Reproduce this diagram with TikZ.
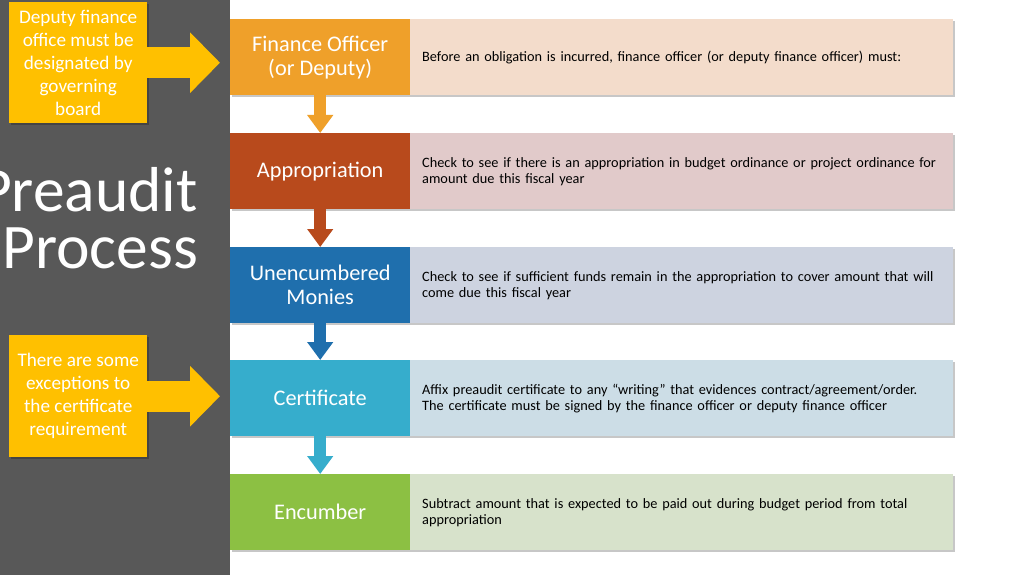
\documentclass[tikz,border=0pt]{standalone}
\usepackage{fontspec}
\setmainfont{Carlito}
\usetikzlibrary{arrows.meta,shadows,calc}
\definecolor{panel}{HTML}{585858}
\definecolor{ylw}{HTML}{FFC000}
\definecolor{cA}{HTML}{EFA02A}
\definecolor{cB}{HTML}{B84A1C}
\definecolor{cC}{HTML}{1F6FAD}
\definecolor{cD}{HTML}{36ADCC}
\definecolor{cE}{HTML}{8CC043}
\definecolor{lA}{HTML}{F3DCCB}
\definecolor{lB}{HTML}{E1CACA}
\definecolor{lC}{HTML}{CDD3E0}
\definecolor{lD}{HTML}{CCDDE6}
\definecolor{lE}{HTML}{D7E2CB}
\begin{document}
\begin{tikzpicture}[x=1pt,y=-1pt,
  shade/.style={drop shadow={shadow xshift=1.5pt,shadow yshift=-2pt,fill=black,opacity=0.22}},
  lbl/.style={anchor=north west, minimum width=180pt, minimum height=76pt, inner sep=0pt,
    text=white, font=\fontsize{22.3}{24}\selectfont, align=center, shade},
  desc/.style={anchor=north west, minimum height=76pt, inner xsep=12pt, inner ysep=0pt,
    text width=519pt, align=left, font=\fontsize{14.3}{16}\selectfont, text=black, shade},
  conn/.style={line width=12pt, -{Triangle[width=25pt,length=18pt]}},
  callout/.style={anchor=north west, fill=ylw, text=white, minimum width=138pt, inner sep=0pt,
    align=center, font=\fontsize{19.2}{23}\selectfont, shade},
  callarrow/.style={line width=31pt, draw=ylw, -{Triangle[width=59pt,length=30pt]}},
  title/.style={anchor=base east, text=white, inner sep=0pt, font=\fontsize{63.5}{57}\selectfont}]
\useasboundingbox (0,0) rectangle (1024,575);
\clip (0,0) rectangle (1024,575);
\fill[white] (0,0) rectangle (1024,575);
\fill[panel] (0,0) rectangle (230,575);

\node[title] (t1) at (198,211) {Preaudit};
\node[title] (t2) at (198,268) {Process};

\node[lbl, fill=cA] (b1) at (230,19) {Finance Officer\\(or Deputy)};
\node[lbl, fill=cB] (b2) at (230,133) {Appropriation};
\node[lbl, fill=cC] (b3) at (230,247) {Unencumbered\\Monies};
\node[lbl, fill=cD] (b4) at (230,360) {Certificate};
\node[lbl, fill=cE] (b5) at (230,474) {Encumber};

\node[desc, fill=lA] (d1) at (410,19) {Before an obligation is incurred, finance officer (or deputy finance officer) must:};
\node[desc, fill=lB] (d2) at (410,133) {Check to see if there is an appropriation in budget ordinance or project ordinance for\\amount due this fiscal year};
\node[desc, fill=lC] (d3) at (410,247) {Check to see if sufficient funds remain in the appropriation to cover amount that will\\come due this fiscal year};
\node[desc, fill=lD] (d4) at (410,360) {Affix preaudit certificate to any “writing” that evidences contract/agreement/order.\\The certificate must be signed by the finance officer or deputy finance officer};
\node[desc, fill=lE] (d5) at (410,474) {Subtract amount that is expected to be paid out during budget period from total\\appropriation};

\draw[conn, cA] (b1.south) -- (b2.north);
\draw[conn, cB] (b2.south) -- (b3.north);
\draw[conn, cC] (b3.south) -- (b4.north);
\draw[conn, cD] (b4.south) -- (b5.north);

\node[callout, minimum height=121pt] (y1) at (9,2) {Deputy finance\\office must be\\designated by\\governing\\board};
\node[callout, minimum height=122pt] (y2) at (9,335) {\rule{0pt}{6pt}There are some\\exceptions to\\the certificate\\requirement};

\draw[callarrow] (y1.east) -- ($(y1.east -| b1.west)+(-10,0)$);
\draw[callarrow] (y2.east) -- ($(y2.east -| b4.west)+(-10,0)$);
\end{tikzpicture}
\end{document}
